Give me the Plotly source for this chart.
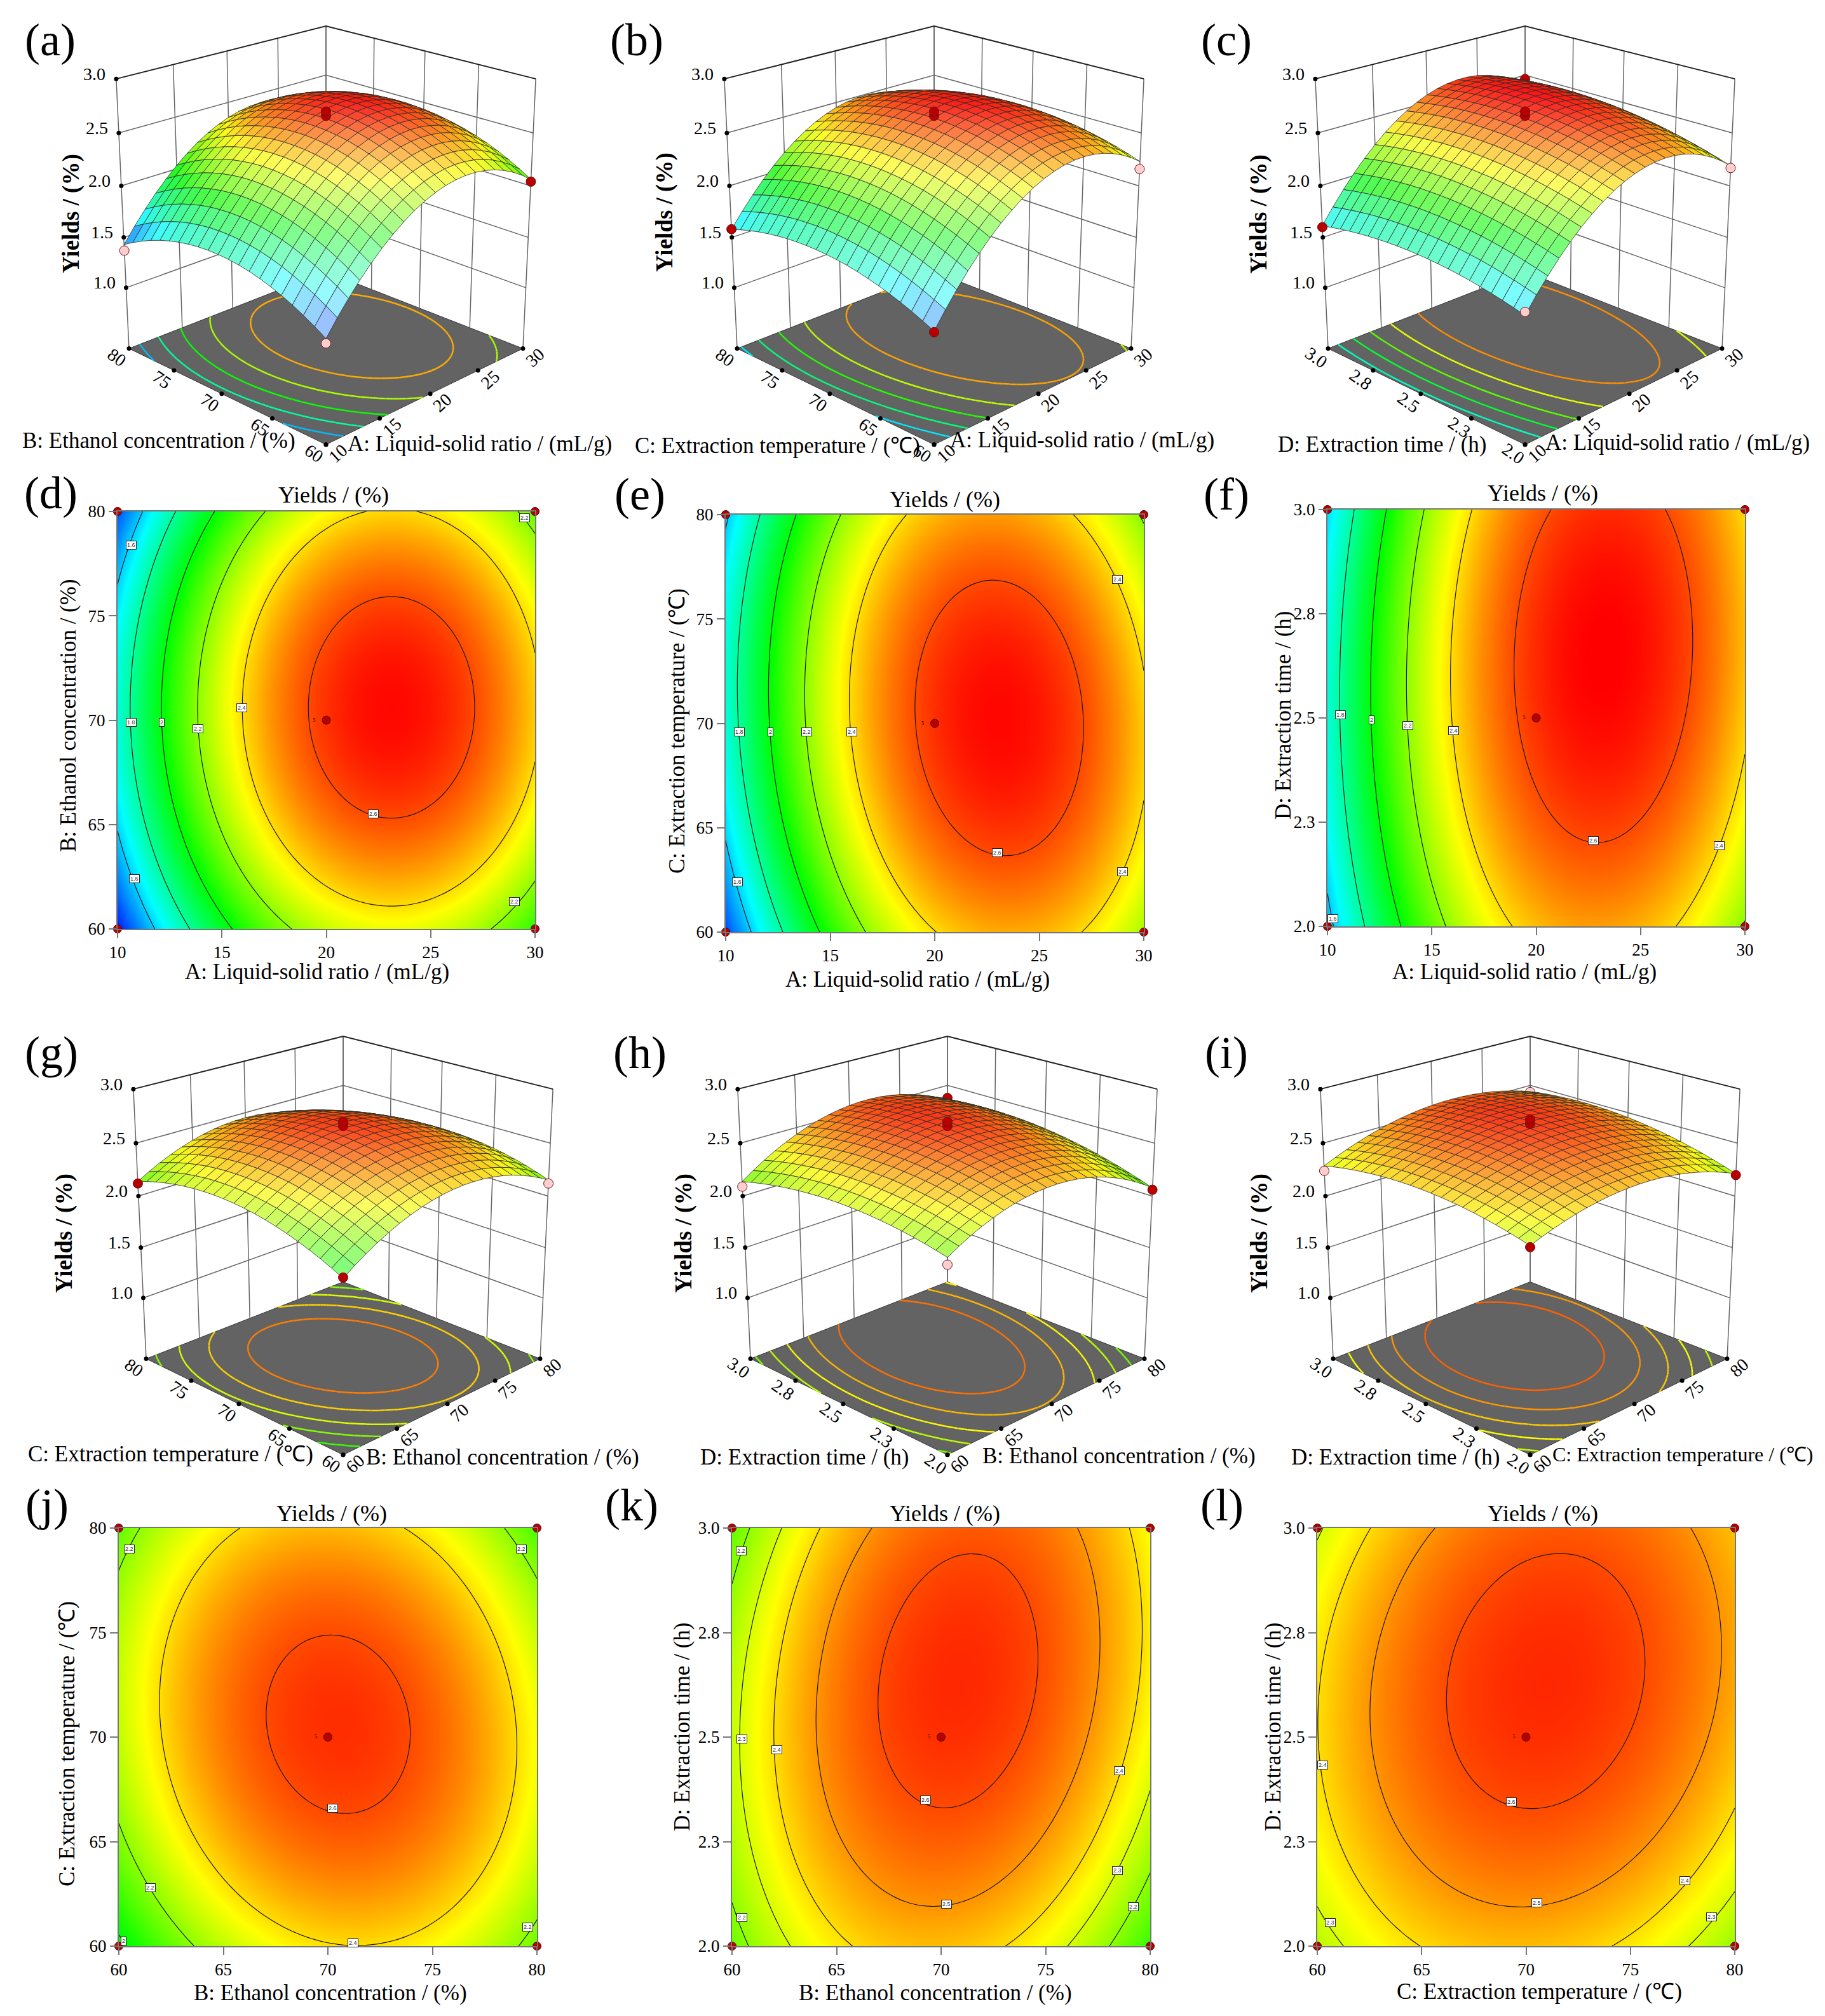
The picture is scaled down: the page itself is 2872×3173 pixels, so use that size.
import math

import numpy as np
import plotly.graph_objects as go

PAGE_W = 2872
PAGE_H = 3173
SERIF = "Liberation Serif"

# factor levels of the response grids
a_levels = [10, 12.5, 15, 17.5, 20, 22.5, 25, 27.5, 30]
b_levels = [60, 62.5, 65, 67.5, 70, 72.5, 75, 77.5, 80]
c_levels = [60, 62.5, 65, 67.5, 70, 72.5, 75, 77.5, 80]
d_levels = [2.0, 2.125, 2.25, 2.375, 2.5, 2.625, 2.75, 2.875, 3.0]

# yields, one row per level of the second factor
yield_ab = [
    [1.35, 1.69, 1.96, 2.15, 2.27, 2.33, 2.31, 2.22, 2.06],
    [1.50, 1.84, 2.11, 2.30, 2.42, 2.48, 2.46, 2.37, 2.21],
    [1.61, 1.95, 2.22, 2.41, 2.53, 2.59, 2.57, 2.48, 2.32],
    [1.68, 2.02, 2.28, 2.48, 2.60, 2.66, 2.64, 2.55, 2.39],
    [1.71, 2.05, 2.31, 2.51, 2.63, 2.69, 2.67, 2.58, 2.42],
    [1.70, 2.04, 2.30, 2.50, 2.62, 2.68, 2.66, 2.57, 2.41],
    [1.65, 1.99, 2.25, 2.45, 2.57, 2.63, 2.61, 2.52, 2.36],
    [1.56, 1.90, 2.16, 2.36, 2.48, 2.54, 2.52, 2.43, 2.27],
    [1.43, 1.77, 2.03, 2.23, 2.35, 2.40, 2.39, 2.30, 2.14],
]
yield_ac = [
    [1.42, 1.77, 2.05, 2.26, 2.40, 2.46, 2.46, 2.38, 2.23],
    [1.53, 1.88, 2.16, 2.36, 2.50, 2.56, 2.55, 2.47, 2.32],
    [1.62, 1.96, 2.24, 2.44, 2.57, 2.63, 2.62, 2.53, 2.38],
    [1.68, 2.02, 2.29, 2.49, 2.62, 2.67, 2.66, 2.57, 2.41],
    [1.71, 2.05, 2.32, 2.51, 2.64, 2.69, 2.67, 2.58, 2.42],
    [1.72, 2.05, 2.32, 2.51, 2.63, 2.68, 2.66, 2.57, 2.40],
    [1.70, 2.03, 2.29, 2.48, 2.60, 2.64, 2.62, 2.52, 2.36],
    [1.65, 1.98, 2.24, 2.42, 2.54, 2.58, 2.55, 2.45, 2.28],
    [1.58, 1.90, 2.16, 2.34, 2.45, 2.49, 2.46, 2.36, 2.18],
]
yield_ad = [
    [1.56, 1.89, 2.14, 2.33, 2.44, 2.49, 2.46, 2.36, 2.19],
    [1.62, 1.95, 2.21, 2.40, 2.52, 2.56, 2.54, 2.44, 2.27],
    [1.67, 2.00, 2.26, 2.45, 2.57, 2.62, 2.60, 2.50, 2.34],
    [1.70, 2.03, 2.30, 2.49, 2.61, 2.66, 2.64, 2.55, 2.39],
    [1.71, 2.05, 2.32, 2.51, 2.64, 2.69, 2.67, 2.58, 2.42],
    [1.71, 2.05, 2.32, 2.52, 2.65, 2.70, 2.69, 2.60, 2.44],
    [1.70, 2.04, 2.31, 2.51, 2.64, 2.70, 2.68, 2.60, 2.44],
    [1.66, 2.01, 2.28, 2.48, 2.61, 2.67, 2.66, 2.58, 2.43],
    [1.61, 1.96, 2.24, 2.44, 2.57, 2.64, 2.63, 2.55, 2.40],
]
yield_bc = [
    [1.97, 2.14, 2.27, 2.35, 2.39, 2.40, 2.36, 2.27, 2.15],
    [2.09, 2.25, 2.37, 2.45, 2.49, 2.49, 2.45, 2.37, 2.24],
    [2.18, 2.34, 2.45, 2.53, 2.57, 2.56, 2.52, 2.43, 2.30],
    [2.24, 2.39, 2.51, 2.58, 2.62, 2.61, 2.56, 2.47, 2.34],
    [2.27, 2.42, 2.54, 2.61, 2.64, 2.62, 2.57, 2.48, 2.34],
    [2.28, 2.43, 2.54, 2.60, 2.63, 2.62, 2.56, 2.46, 2.32],
    [2.26, 2.40, 2.51, 2.57, 2.60, 2.58, 2.52, 2.42, 2.28],
    [2.21, 2.35, 2.46, 2.52, 2.54, 2.52, 2.45, 2.35, 2.20],
    [2.14, 2.28, 2.38, 2.43, 2.45, 2.43, 2.36, 2.25, 2.10],
]
yield_bd = [
    [2.15, 2.29, 2.38, 2.43, 2.44, 2.41, 2.34, 2.23, 2.08],
    [2.21, 2.35, 2.44, 2.50, 2.52, 2.49, 2.42, 2.32, 2.17],
    [2.25, 2.39, 2.49, 2.55, 2.57, 2.55, 2.49, 2.39, 2.24],
    [2.27, 2.42, 2.52, 2.59, 2.61, 2.60, 2.54, 2.44, 2.30],
    [2.27, 2.43, 2.54, 2.61, 2.64, 2.62, 2.57, 2.48, 2.34],
    [2.26, 2.42, 2.54, 2.61, 2.64, 2.64, 2.59, 2.50, 2.37],
    [2.24, 2.40, 2.52, 2.60, 2.64, 2.63, 2.59, 2.50, 2.38],
    [2.19, 2.36, 2.49, 2.57, 2.61, 2.61, 2.57, 2.49, 2.37],
    [2.14, 2.31, 2.44, 2.52, 2.57, 2.58, 2.54, 2.47, 2.35],
]
yield_cd = [
    [2.25, 2.34, 2.40, 2.44, 2.44, 2.43, 2.38, 2.31, 2.21],
    [2.31, 2.40, 2.47, 2.51, 2.52, 2.50, 2.46, 2.39, 2.30],
    [2.36, 2.45, 2.52, 2.56, 2.57, 2.56, 2.52, 2.46, 2.36],
    [2.39, 2.48, 2.55, 2.60, 2.61, 2.60, 2.57, 2.50, 2.42],
    [2.40, 2.50, 2.57, 2.62, 2.64, 2.63, 2.60, 2.54, 2.45],
    [2.39, 2.50, 2.57, 2.62, 2.64, 2.64, 2.61, 2.56, 2.47],
    [2.37, 2.48, 2.56, 2.61, 2.64, 2.64, 2.61, 2.56, 2.48],
    [2.34, 2.45, 2.53, 2.58, 2.61, 2.61, 2.59, 2.54, 2.46],
    [2.29, 2.40, 2.48, 2.54, 2.57, 2.58, 2.56, 2.51, 2.44],
]

# tick values and labels
tick_a = [10, 15, 20, 25, 30]
tick_pct = [60, 65, 70, 75, 80]
tick_d = [2.0, 2.25, 2.5, 2.75, 3.0]
text_a = ["10", "15", "20", "25", "30"]
text_pct = ["60", "65", "70", "75", "80"]
text_d = ["2.0", "2.3", "2.5", "2.8", "3.0"]
tick_z = [1.0, 1.5, 2.0, 2.5, 3.0]
z_floor = 0.38

title_a = "A: Liquid-solid ratio / (mL/g)"
title_b = "B: Ethanol concentration / (%)"
title_c = "C: Extraction temperature / (\u2103)"
title_d = "D: Extraction time / (h)"
title_y = "Yields / (%)"

# design points on the 3D panels: front, left, right, back corner yields and the centre runs
points_a = [1.31, 1.37, 2.04, 2.10, 2.66, 2.70]
points_b = [1.41, 1.58, 2.16, 2.15, 2.66, 2.70]
points_c = [1.59, 1.60, 2.17, 2.46, 2.66, 2.70]
points_g = [1.98, 2.12, 2.12, 2.10, 2.66, 2.70]
points_h = [2.09, 2.09, 2.06, 2.37, 2.66, 2.70]
points_i = [2.24, 2.24, 2.20, 2.43, 2.68, 2.72]
RED = "#b80000"
PINK = "#ffcfcf"
colors_a = [PINK, PINK, RED, PINK, RED, RED]
colors_b = [RED, RED, PINK, PINK, RED, RED]
colors_c = [PINK, RED, PINK, RED, RED, RED]
colors_g = [RED, RED, PINK, PINK, RED, RED]
colors_h = [PINK, PINK, RED, RED, RED, RED]
colors_i = [RED, PINK, RED, PINK, RED, RED]

# little boxed contour labels on the 2D panels
labels_d = [(10.65, 78.4, "1.6"), (10.65, 69.9, "1.8"), (12.13, 69.9, "2"), (13.86, 69.6, "2.2"), (15.96, 70.6, "2.4"),
            (22.24, 65.5, "2.6"), (29.5, 79.7, "2.2"), (10.8, 62.4, "1.6"), (29.0, 61.3, "2.2")]
labels_e = [(10.66, 69.6, "1.8"), (12.15, 69.6, "2"), (13.88, 69.6, "2.2"), (16.03, 69.6, "2.4"), (23.0, 63.8, "2.6"),
            (28.74, 76.9, "2.4"), (28.97, 62.9, "2.4"), (10.56, 62.4, "1.6")]
labels_f = [(10.63, 2.507, "1.8"), (12.13, 2.495, "2"), (13.86, 2.482, "2.2"), (16.03, 2.469, "2.4"), (22.73, 2.206, "2.6"),
            (28.76, 2.193, "2.4"), (10.26, 2.019, "1.6")]
labels_j = [(60.5, 79.0, "2.2"), (79.25, 79.0, "2.2"), (61.5, 62.8, "2.2"), (60.24, 60.24, "2"), (71.2, 60.15, "2.4"),
            (70.24, 66.6, "2.6"), (79.57, 60.9, "2.2")]
labels_k = [(60.44, 2.945, "2.2"), (60.47, 2.495, "2.3"), (62.13, 2.469, "2.4"), (69.25, 2.349, "2.6"), (70.26, 2.101, "2.5"),
            (78.52, 2.42, "2.4"), (78.43, 2.181, "2.3"), (79.18, 2.094, "2.2"), (60.47, 2.068, "2.2")]
labels_l = [(60.26, 2.433, "2.4"), (69.31, 2.345, "2.6"), (70.52, 2.103, "2.5"), (77.6, 2.157, "2.4"), (78.9, 2.07, "2.3"),
            (60.63, 2.056, "2.3")]

Z_MIN = 1.32
Z_MAX = 2.70
FLAT_COLORS = [[0, "#0000ff"], [0.25, "#00ffff"], [0.5, "#00ff00"], [0.75, "#ffff00"], [1, "#ff0000"]]
STOPS = [(0, 0, 255), (0, 255, 255), (0, 255, 0), (255, 255, 0), (255, 0, 0)]

# six WebGL scenes do not load in time, so the box view is worked out here and drawn on a page-sized axis
SIN_E = 0.36
COS_E = math.sqrt(1 - SIN_E ** 2)
DIST = 11.5
FOCAL = 2600
BOX_H = 2.01
MESH = 20

fig = go.Figure()
annotations = []
shapes = []


def paper_text(x, y, text, size, angle=0):
    annotations.append(dict(xref="paper", yref="paper", x=x / PAGE_W, y=1 - y / PAGE_H, text=text, showarrow=False,
                            xanchor="center", yanchor="middle", textangle=angle,
                            font=dict(family=SERIF, size=size, color="#000")))


def response_model(xs, ys, z):
    # second order response fitted through the values
    gx, gy = np.meshgrid(xs, ys)
    basis = np.column_stack([np.ones(gx.size), gx.ravel(), gy.ravel(), gx.ravel() ** 2, gx.ravel() * gy.ravel(), gy.ravel() ** 2])
    coef = np.linalg.lstsq(basis, np.array(z).ravel(), rcond=None)[0]
    return lambda x, y: coef[0] + coef[1] * x + coef[2] * y + coef[3] * x ** 2 + coef[4] * x * y + coef[5] * y ** 2


def surface_color(value, facing):
    t = min(max((value - Z_MIN) / (Z_MAX - Z_MIN), 0), 1) * 4
    i = min(int(t), 3)
    base = [STOPS[i][k] + (STOPS[i + 1][k] - STOPS[i][k]) * (t - i) for k in range(3)]
    mix = 0.75 * facing ** 2
    dim = 0.97 + 0.03 * facing
    return "rgb(%d,%d,%d)" % tuple((c + (255 - c) * mix) * dim for c in base)


def level_color(value):
    t = min(max((value - Z_MIN) / (Z_MAX - Z_MIN), 0), 1) * 4
    i = min(int(t), 3)
    return "rgb(%d,%d,%d)" % tuple(STOPS[i][k] + (STOPS[i + 1][k] - STOPS[i][k]) * (t - i) for k in range(3))


def add_box_panel(cx, cy, xs, ys, z, xticks, yticks, xtext, ytext, points, colors):
    xmin, xmax, ymin, ymax = xs[0], xs[-1], ys[0], ys[-1]
    model = response_model(xs, ys, z)

    def place(x, y, v):
        u = 2 * (x - xmin) / (xmax - xmin) - 1
        w = 2 * (y - ymin) / (ymax - ymin) - 1
        h = BOX_H * ((v - z_floor) / (tick_z[-1] - z_floor) - 0.5)
        along = (u + w) / math.sqrt(2)
        depth = DIST + COS_E * along - SIN_E * h
        return cx + FOCAL * (u - w) / math.sqrt(2) / depth, cy - FOCAL * (SIN_E * along + COS_E * h) / depth, depth

    def polyline(triples):
        px, py = [], []
        for t in triples:
            if t is None:
                px.append(None); py.append(None)
            else:
                a, b, _ = place(*t)
                px.append(a); py.append(b)
        return px, py

    # floor
    px, py = polyline([(xmin, ymin, z_floor), (xmax, ymin, z_floor), (xmax, ymax, z_floor), (xmin, ymax, z_floor), (xmin, ymin, z_floor)])
    fig.add_trace(go.Scatter(x=px, y=py, xaxis="x7", yaxis="y7", mode="lines", fill="toself", fillcolor="#636363",
                             line=dict(color="#333", width=1), hoverinfo="skip", showlegend=False))

    # walls, no grid on the floor
    lines = []
    for t in xticks:
        lines += [(t, ymax, z_floor), (t, ymax, tick_z[-1]), None]
    for t in yticks:
        lines += [(xmax, t, z_floor), (xmax, t, tick_z[-1]), None]
    for t in tick_z[:-1]:
        lines += [(xmin, ymax, t), (xmax, ymax, t), (xmax, ymin, t), None]
    px, py = polyline(lines)
    fig.add_trace(go.Scatter(x=px, y=py, xaxis="x7", yaxis="y7", mode="lines", line=dict(color="#666", width=1.5),
                             hoverinfo="skip", showlegend=False))
    px, py = polyline([(xmin, ymax, tick_z[-1]), (xmax, ymax, tick_z[-1]), (xmax, ymin, tick_z[-1])])
    fig.add_trace(go.Scatter(x=px, y=py, xaxis="x7", yaxis="y7", mode="lines", line=dict(color="#222", width=2),
                             hoverinfo="skip", showlegend=False))

    # floor contours, five levels spread between the lowest and highest yield
    fine_x = np.linspace(xmin, xmax, 61)
    fine_y = np.linspace(ymin, ymax, 61)
    fine = model(*np.meshgrid(fine_x, fine_y))
    low, high = np.min(z), np.max(z)
    for k in range(1, 6):
        level = low + k * (high - low) / 6
        segs = []
        for j in range(60):
            for i in range(60):
                corners = [(fine_x[i], fine_y[j], fine[j, i]), (fine_x[i + 1], fine_y[j], fine[j, i + 1]),
                           (fine_x[i + 1], fine_y[j + 1], fine[j + 1, i + 1]), (fine_x[i], fine_y[j + 1], fine[j + 1, i])]
                hits = []
                for n in range(4):
                    p, q = corners[n], corners[(n + 1) % 4]
                    if (p[2] - level) * (q[2] - level) < 0:
                        f = (level - p[2]) / (q[2] - p[2])
                        hits.append((p[0] + f * (q[0] - p[0]), p[1] + f * (q[1] - p[1]), z_floor))
                if len(hits) == 2:
                    segs += [hits[0], hits[1], None]
        px, py = polyline(segs)
        fig.add_trace(go.Scatter(x=px, y=py, xaxis="x7", yaxis="y7", mode="lines", line=dict(color=level_color(level), width=2.5),
                                 hoverinfo="skip", showlegend=False))

    # tick dots and the back corner run, which sits behind the surface
    dots = [(t, ymin, z_floor) for t in xticks] + [(xmin, t, z_floor) for t in yticks] + [(xmin, ymax, t) for t in tick_z]
    px, py = polyline(dots)
    fig.add_trace(go.Scatter(x=px, y=py, xaxis="x7", yaxis="y7", mode="markers", marker=dict(size=7, color="#000"),
                             hoverinfo="skip", showlegend=False))
    back = place(xmax, ymax, points[3])
    fig.add_trace(go.Scatter(x=[back[0]], y=[back[1]], xaxis="x7", yaxis="y7", mode="markers",
                             marker=dict(size=15, color=colors[3], line=dict(color="#611", width=1)),
                             hoverinfo="skip", showlegend=False))

    # surface cells, far ones first
    mesh_x = np.linspace(xmin, xmax, MESH + 1)
    mesh_y = np.linspace(ymin, ymax, MESH + 1)
    sx = (xmax - xmin) / 2
    sy = (ymax - ymin) / 2
    view = np.array([-COS_E / math.sqrt(2), -COS_E / math.sqrt(2), SIN_E])
    scale_h = BOX_H / (tick_z[-1] - z_floor)
    cells = []
    for j in range(MESH):
        for i in range(MESH):
            quad = [(mesh_x[i], mesh_y[j]), (mesh_x[i + 1], mesh_y[j]), (mesh_x[i + 1], mesh_y[j + 1]), (mesh_x[i], mesh_y[j + 1])]
            heights = [float(model(a, b)) for a, b in quad]
            spots = [place(a, b, v) for (a, b), v in zip(quad, heights)]
            d1 = np.array([(quad[2][0] - quad[0][0]) / sx, (quad[2][1] - quad[0][1]) / sy, (heights[2] - heights[0]) * scale_h])
            d2 = np.array([(quad[3][0] - quad[1][0]) / sx, (quad[3][1] - quad[1][1]) / sy, (heights[3] - heights[1]) * scale_h])
            normal = np.cross(d1, d2)
            facing = abs(float(normal @ view)) / float(np.linalg.norm(normal))
            path = "M" + " L".join(f"{s[0]:.1f},{s[1]:.1f}" for s in spots) + " Z"
            cells.append((sum(s[2] for s in spots), path, surface_color(sum(heights) / 4, facing)))
    for _, path, color in sorted(cells, key=lambda c: -c[0]):
        shapes.append(dict(type="path", path=path, xref="x7", yref="y7", layer="above", fillcolor=color,
                           line=dict(color="#2a2a2a", width=0.8)))

    # the runs in front of the surface
    spots = [(xmin, ymin), (xmin, ymax), (xmax, ymin), None, (xs[4], ys[4]), (xs[4], ys[4])]
    for spot, value, color in zip(spots, points, colors):
        if spot is None:
            continue
        a, b, _ = place(spot[0], spot[1], value)
        shapes.append(dict(type="circle", xref="x7", yref="y7", layer="above", xsizemode="pixel", ysizemode="pixel",
                           xanchor=a, yanchor=b, x0=-7.5, x1=7.5, y0=-7.5, y1=7.5, fillcolor=color, line=dict(color="#611", width=1)))

    # tick labels next to the dots
    tick_font = dict(family=SERIF, size=28, color="#000")
    for t, s in zip(xticks, xtext):
        a, b, _ = place(t, ymin, z_floor)
        annotations.append(dict(xref="x7", yref="y7", x=a + 19, y=b + 14, text=s, showarrow=False, textangle=-42, font=tick_font))
    for t, s in zip(yticks, ytext):
        a, b, _ = place(xmin, t, z_floor)
        annotations.append(dict(xref="x7", yref="y7", x=a - 19, y=b + 14, text=s, showarrow=False, textangle=35, font=tick_font))
    for t in tick_z:
        a, b, _ = place(xmin, ymax, t)
        annotations.append(dict(xref="x7", yref="y7", x=a - 34, y=b - 8, text=f"{t:.1f}", showarrow=False, font=tick_font))


def add_contour_panel(n, box, xs, ys, z, xticks, yticks, xtext, ytext, levels, labels):
    left, right, top, bottom = box
    xname = "x" if n == 1 else f"x{n}"
    yname = "y" if n == 1 else f"y{n}"
    model = response_model(xs, ys, z)
    fine_x = np.linspace(xs[0], xs[-1], 81)
    fine_y = np.linspace(ys[0], ys[-1], 81)
    fig.add_trace(go.Contour(
        x=fine_x, y=fine_y, z=model(*np.meshgrid(fine_x, fine_y)), xaxis=xname, yaxis=yname, colorscale=FLAT_COLORS,
        zauto=False, zmin=Z_MIN, zmax=Z_MAX, showscale=False, hoverinfo="skip",
        contours=dict(coloring="heatmap", start=levels[0], end=levels[1], size=levels[2]),
        line=dict(color="#1a1a1a", width=1.2, smoothing=0.6),
    ))
    mid_x, mid_y = xs[4], ys[4]
    fig.add_trace(go.Scatter(
        x=[xs[0], xs[0], xs[-1], xs[-1], mid_x], y=[ys[0], ys[-1], ys[0], ys[-1], mid_y], xaxis=xname, yaxis=yname,
        mode="markers+text", text=["", "", "", "", "5 \u00a0 \u00a0"], textposition="middle left",
        textfont=dict(family=SERIF, size=8, color="#000"), cliponaxis=False, hoverinfo="skip", showlegend=False,
        marker=dict(size=13, color=RED, line=dict(color="#400", width=1))))
    for lx, ly, s in labels:
        annotations.append(dict(xref=xname, yref=yname, x=lx, y=ly, text=s, showarrow=False, bgcolor="#fff",
                                bordercolor="#222", borderwidth=1, borderpad=1,
                                font=dict(family="Liberation Sans", size=9, color="#333")))
    axis_style = dict(showgrid=False, zeroline=False, ticks="outside", ticklen=12, tickwidth=2, tickcolor="#777",
                      showline=True, linecolor="#777", linewidth=2, mirror=True,
                      tickfont=dict(family=SERIF, size=27, color="#000"))
    fig.update_layout({
        f"xaxis{'' if n == 1 else n}": dict(axis_style, domain=[left / PAGE_W, right / PAGE_W], range=[xs[0], xs[-1]],
                                            anchor=yname, tickvals=xticks, ticktext=xtext),
        f"yaxis{'' if n == 1 else n}": dict(axis_style, domain=[1 - bottom / PAGE_H, 1 - top / PAGE_H], range=[ys[0], ys[-1]],
                                            anchor=xname, tickvals=yticks, ticktext=ytext),
    })


add_contour_panel(1, (185, 842, 805, 1462), a_levels, b_levels, yield_ab, tick_a, tick_pct, text_a, text_pct, (1.6, 2.6, 0.2), labels_d)
add_contour_panel(2, (1142, 1800, 810, 1467), a_levels, c_levels, yield_ac, tick_a, tick_pct, text_a, text_pct, (1.6, 2.6, 0.2), labels_e)
add_contour_panel(3, (2089, 2746, 802, 1458), a_levels, d_levels, yield_ad, tick_a, tick_d, text_a, text_d, (1.6, 2.6, 0.2), labels_f)
add_contour_panel(4, (187, 845, 2405, 3063), b_levels, c_levels, yield_bc, tick_pct, tick_pct, text_pct, text_pct, (2.0, 2.6, 0.2), labels_j)
add_contour_panel(5, (1152, 1810, 2405, 3063), b_levels, d_levels, yield_bd, tick_pct, tick_d, text_pct, text_d, (2.2, 2.6, 0.1), labels_k)
add_contour_panel(6, (2073, 2730, 2405, 3063), c_levels, d_levels, yield_cd, tick_pct, tick_d, text_pct, text_d, (2.3, 2.6, 0.1), labels_l)

add_box_panel(513, 343, a_levels, b_levels, yield_ab, tick_a, tick_pct, text_a, text_pct, points_a, colors_a)
add_box_panel(1470, 343, a_levels, c_levels, yield_ac, tick_a, tick_pct, text_a, text_pct, points_b, colors_b)
add_box_panel(2400, 343, a_levels, d_levels, yield_ad, tick_a, tick_d, text_a, text_d, points_c, colors_c)
add_box_panel(540, 1933, b_levels, c_levels, yield_bc, tick_pct, tick_pct, text_pct, text_pct, points_g, colors_g)
add_box_panel(1491, 1933, b_levels, d_levels, yield_bd, tick_pct, tick_d, text_pct, text_d, points_h, colors_h)
add_box_panel(2408, 1933, c_levels, d_levels, yield_cd, tick_pct, tick_d, text_pct, text_d, points_i, colors_i)

# panel letters
for s, x, y in [("(a)", 79, 63), ("(b)", 1002, 63), ("(c)", 1930, 63), ("(d)", 80, 776), ("(e)", 1007, 778), ("(f)", 1930, 778),
                ("(g)", 81, 1657), ("(h)", 1007, 1657), ("(i)", 1930, 1657), ("(j)", 74, 2369), ("(k)", 994, 2369), ("(l)", 1923, 2369)]:
    paper_text(x, y, s, 72)

# axis titles of the 3D panels
for s, x, y in [(title_a, 755, 698), (title_b, 250, 693), (title_a, 1703, 692), (title_c, 1223, 702), (title_a, 2640, 697), (title_d, 2175, 700),
                (title_b, 791, 2293), (title_c, 268, 2288), (title_b, 1761, 2291), (title_d, 1266, 2293)]:
    paper_text(x, y, s, 35)
paper_text(2196, 2293, title_d, 35)
paper_text(2648, 2289, title_c, 32)
for x, y in [(112, 336), (1046, 334), (1981, 337), (101, 1941), (1076, 1941), (1982, 1941)]:
    paper_text(x, y, f"<b>{title_y}</b>", 37, angle=-90)

# titles of the contour panels
for x, y in [(525, 779), (1487, 786), (2428, 776), (522, 2382), (1487, 2382), (2428, 2382)]:
    paper_text(x, y, title_y, 36)
for s, x, y in [(title_a, 499, 1529), (title_a, 1444, 1541), (title_a, 2399, 1529), (title_b, 520, 3136), (title_b, 1472, 3136), (title_c, 2422, 3134)]:
    paper_text(x, y, s, 35)
for s, x, y in [(title_b, 107, 1126), (title_c, 1065, 1151), (title_d, 2019, 1126), (title_c, 105, 2745), (title_d, 1073, 2718), (title_d, 2003, 2718)]:
    paper_text(x, y, s, 35, angle=-90)

page_axis = dict(visible=False, fixedrange=True, domain=[0, 1])
fig.update_layout(width=PAGE_W, height=PAGE_H, margin=dict(l=0, r=0, t=0, b=0, autoexpand=False), paper_bgcolor="#fff", plot_bgcolor="rgba(0,0,0,0)",
                  showlegend=False, annotations=annotations, shapes=shapes, font=dict(family=SERIF),
                  xaxis7=dict(page_axis, range=[0, PAGE_W], anchor="y7"),
                  yaxis7=dict(page_axis, range=[PAGE_H, 0], anchor="x7"))

fig.write_html("out.html", config=dict(displayModeBar=False), post_script="document.body.style.margin='0';")
